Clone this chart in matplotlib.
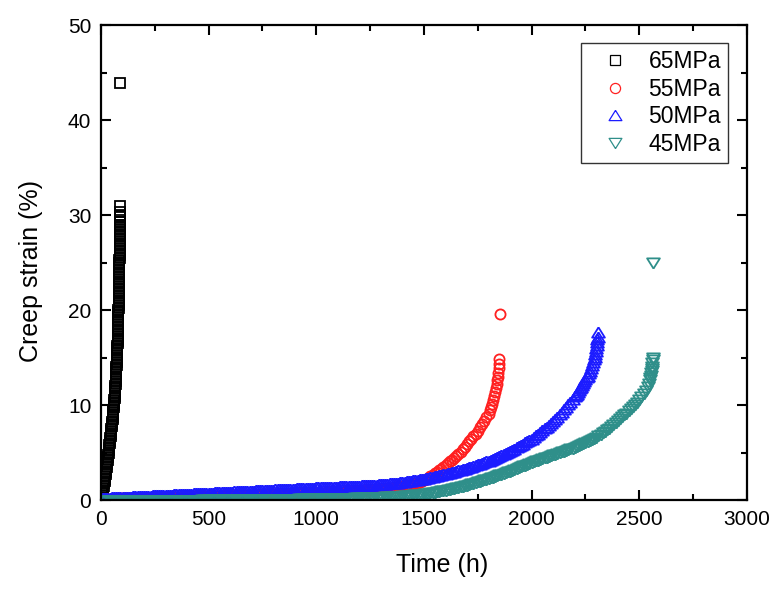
import matplotlib.pyplot as plt
import numpy as np
from matplotlib.ticker import MultipleLocator

plt.rcParams["font.family"] = ["Liberation Sans", "DejaVu Sans"]

# 65 MPa (time in h, creep strain in %)
t_65 = [0, 2.5, 5, 7, 9, 11, 13, 15,
        17, 18.5, 20, 21.5, 23, 24.5, 26, 27.5,
        29, 30.5, 32, 33.5, 35, 36.5, 38, 39.5,
        41, 42.2, 43.5, 44.8, 46, 47.2, 48.5, 49.8,
        51, 52.2, 53.5, 54.8, 56, 57, 58, 59,
        60, 61, 62, 63, 64, 64.8, 65.5, 66.2,
        67, 67.8, 68.5, 69.2, 70, 70.5, 71, 71.5,
        72, 72.5, 73, 73.5, 74, 74.5, 75, 75.5,
        76, 76.4, 76.8, 77.2, 77.5, 77.9, 78.2, 78.5,
        78.8, 79.1, 79.4, 79.7, 80, 80.3, 80.6, 80.9,
        81.2, 81.5, 81.7, 82, 82.2, 82.5, 82.7, 83,
        83.2, 83.4, 83.6, 83.8, 84, 84.2, 84.4, 84.6,
        84.8, 85, 85.2, 85.4, 85.6, 85.8, 86, 86.2,
        86.3, 86.5, 86.6, 86.8, 86.9, 87.1, 87.2, 87.4,
        87.5, 87.7, 87.8, 87.9, 88, 88.1, 88.2, 88.3,
        88.4, 88.4, 88.4, 88.4]
s_65 = [0, 0.25, 0.5, 0.75, 1, 1.25, 1.5, 1.75,
        2, 2.25, 2.5, 2.75, 3, 3.25, 3.5, 3.75,
        4, 4.25, 4.5, 4.75, 5, 5.25, 5.5, 5.75,
        6, 6.25, 6.5, 6.75, 7, 7.25, 7.5, 7.75,
        8, 8.25, 8.5, 8.75, 9, 9.25, 9.5, 9.75,
        10, 10.25, 10.5, 10.75, 11, 11.25, 11.5, 11.75,
        12, 12.25, 12.5, 12.75, 13, 13.25, 13.5, 13.75,
        14, 14.25, 14.5, 14.75, 15, 15.25, 15.5, 15.75,
        16, 16.25, 16.5, 16.75, 17, 17.25, 17.5, 17.75,
        18, 18.25, 18.5, 18.75, 19, 19.25, 19.5, 19.75,
        20, 20.25, 20.5, 20.75, 21, 21.25, 21.5, 21.75,
        22, 22.25, 22.5, 22.75, 23, 23.25, 23.5, 23.75,
        24, 24.25, 24.5, 24.75, 25, 25.25, 25.5, 25.75,
        26, 26.25, 26.5, 26.75, 27, 27.25, 27.5, 27.75,
        28, 28.25, 28.5, 28.75, 29, 29.25, 29.5, 29.75,
        30, 30.3, 30.9, 43.9]

# 55 MPa, logged every 10 h, then the last hours before rupture
t_55 = list(range(0, 1801, 10)) + [1805, 1810, 1815, 1820, 1825, 1830, 1834, 1838,
                                   1841, 1844, 1846, 1848, 1849, 1850, 1851]
s_55 = [0.10, 0.11, 0.11, 0.12, 0.13, 0.13, 0.14, 0.15, 0.16, 0.16,
        0.17, 0.18, 0.18, 0.19, 0.20, 0.20, 0.21, 0.22, 0.23, 0.23,
        0.24, 0.25, 0.25, 0.26, 0.27, 0.27, 0.28, 0.29, 0.30, 0.30,
        0.31, 0.32, 0.32, 0.33, 0.33, 0.34, 0.35, 0.35, 0.36, 0.36,
        0.37, 0.38, 0.38, 0.39, 0.39, 0.40, 0.41, 0.41, 0.42, 0.42,
        0.43, 0.44, 0.44, 0.45, 0.46, 0.46, 0.47, 0.48, 0.48, 0.49,
        0.50, 0.51, 0.51, 0.52, 0.52, 0.53, 0.54, 0.54, 0.55, 0.55,
        0.56, 0.57, 0.57, 0.58, 0.58, 0.59, 0.60, 0.60, 0.61, 0.61,
        0.62, 0.63, 0.63, 0.64, 0.64, 0.65, 0.66, 0.66, 0.67, 0.67,
        0.68, 0.69, 0.69, 0.70, 0.71, 0.71, 0.72, 0.73, 0.73, 0.74,
        0.75, 0.76, 0.77, 0.78, 0.79, 0.80, 0.81, 0.82, 0.83, 0.84,
        0.85, 0.86, 0.87, 0.89, 0.90, 0.91, 0.93, 0.94, 0.95, 0.97,
        0.98, 1.00, 1.01, 1.03, 1.05, 1.06, 1.08, 1.10, 1.11, 1.13,
        1.15, 1.18, 1.20, 1.23, 1.26, 1.29, 1.32, 1.35, 1.38, 1.41,
        1.45, 1.49, 1.54, 1.58, 1.63, 1.70, 1.77, 1.84, 1.92, 2.01,
        2.10, 2.23, 2.36, 2.50, 2.65, 2.80, 2.96, 3.13, 3.31, 3.50,
        3.70, 3.88, 4.06, 4.24, 4.42, 4.60, 4.84, 5.10, 5.36, 5.63,
        5.90, 6.16, 6.42, 6.69, 6.97, 7.30, 7.64, 7.98, 8.33, 8.70,
        9.10,
        9.45, 9.80, 10.15, 10.50, 10.90, 11.40, 11.80, 12.20, 12.60, 13.00,
        13.40, 13.90, 14.30, 14.80, 19.60]

# 50 MPa
t_50 = list(range(0, 2201, 10)) + [2205, 2210, 2215, 2220, 2225, 2230, 2235, 2240,
                                   2245, 2250, 2255, 2260, 2265, 2270, 2275, 2280,
                                   2284, 2288, 2292, 2295, 2298, 2300, 2302, 2304,
                                   2305, 2306, 2308]
s_50 = [0.22, 0.23, 0.24, 0.25, 0.26, 0.28, 0.29, 0.30, 0.31, 0.32,
        0.33, 0.34, 0.35, 0.36, 0.37, 0.39, 0.40, 0.41, 0.42, 0.43,
        0.44, 0.45, 0.46, 0.47, 0.48, 0.50, 0.51, 0.52, 0.53, 0.54,
        0.55, 0.56, 0.57, 0.58, 0.59, 0.61, 0.62, 0.63, 0.64, 0.65,
        0.66, 0.67, 0.68, 0.69, 0.70, 0.72, 0.73, 0.74, 0.75, 0.76,
        0.77, 0.78, 0.79, 0.80, 0.81, 0.83, 0.84, 0.85, 0.86, 0.87,
        0.88, 0.89, 0.90, 0.91, 0.92, 0.94, 0.95, 0.96, 0.97, 0.98,
        0.99, 1.00, 1.01, 1.02, 1.03, 1.05, 1.06, 1.07, 1.08, 1.09,
        1.10, 1.11, 1.12, 1.13, 1.14, 1.16, 1.17, 1.18, 1.19, 1.20,
        1.21, 1.22, 1.23, 1.24, 1.25, 1.27, 1.28, 1.29, 1.30, 1.31,
        1.32, 1.33, 1.34, 1.35, 1.36, 1.37, 1.38, 1.39, 1.40, 1.41,
        1.42, 1.43, 1.44, 1.45, 1.46, 1.47, 1.48, 1.49, 1.50, 1.51,
        1.52, 1.53, 1.55, 1.56, 1.58, 1.59, 1.60, 1.62, 1.63, 1.65,
        1.66, 1.68, 1.70, 1.72, 1.74, 1.77, 1.79, 1.81, 1.83, 1.86,
        1.88, 1.91, 1.95, 1.98, 2.02, 2.06, 2.10, 2.14, 2.18, 2.21,
        2.25, 2.30, 2.35, 2.40, 2.45, 2.50, 2.55, 2.60, 2.65, 2.70,
        2.75, 2.81, 2.87, 2.93, 2.99, 3.05, 3.11, 3.17, 3.23, 3.29,
        3.35, 3.43, 3.51, 3.59, 3.67, 3.75, 3.83, 3.91, 3.99, 4.07,
        4.15, 4.25, 4.35, 4.45, 4.55, 4.65, 4.75, 4.85, 4.95, 5.05,
        5.15, 5.28, 5.41, 5.54, 5.67, 5.80, 5.93, 6.06, 6.19, 6.32,
        6.45, 6.62, 6.80, 6.98, 7.16, 7.34, 7.53, 7.72, 7.91, 8.10,
        8.30, 8.54, 8.78, 9.03, 9.28, 9.54, 9.80, 10.07, 10.34, 10.62,
        10.90,
        11.05, 11.20, 11.40, 11.55, 11.75, 11.90, 12.10, 12.30, 12.50, 12.70,
        12.90, 13.10, 13.35, 13.60, 13.90, 14.20, 14.50, 14.80, 15.10, 15.40,
        15.70, 16.00, 16.30, 16.60, 16.90, 17.20, 17.70]

# 45 MPa
t_45 = list(range(0, 2541, 10)) + [2546, 2549, 2552, 2554, 2556, 2558, 2559, 2560,
                                   2561, 2562, 2563, 2563]
s_45 = [-0.15, -0.15, -0.15, -0.14, -0.14, -0.14, -0.14, -0.13, -0.13, -0.13,
        -0.13, -0.13, -0.13, -0.12, -0.12, -0.12, -0.12, -0.11, -0.11, -0.11,
        -0.11, -0.11, -0.11, -0.10, -0.10, -0.10, -0.10, -0.09, -0.09, -0.09,
        -0.09, -0.09, -0.09, -0.08, -0.08, -0.08, -0.08, -0.07, -0.07, -0.07,
        -0.07, -0.07, -0.07, -0.06, -0.06, -0.06, -0.06, -0.05, -0.05, -0.05,
        -0.05, -0.05, -0.05, -0.04, -0.04, -0.04, -0.04, -0.03, -0.03, -0.03,
        -0.03, -0.03, -0.03, -0.02, -0.02, -0.02, -0.02, -0.01, -0.01, -0.01,
        -0.01, -0.01, 0.00, 0.00, 0.00, 0.00, 0.01, 0.01, 0.01, 0.02,
        0.02, 0.02, 0.03, 0.03, 0.03, 0.03, 0.04, 0.04, 0.04, 0.05,
        0.05, 0.05, 0.06, 0.06, 0.06, 0.06, 0.07, 0.07, 0.07, 0.08,
        0.08, 0.08, 0.09, 0.09, 0.10, 0.10, 0.10, 0.11, 0.11, 0.12,
        0.12, 0.12, 0.13, 0.13, 0.14, 0.14, 0.15, 0.15, 0.16, 0.16,
        0.17, 0.18, 0.18, 0.19, 0.20, 0.21, 0.22, 0.22, 0.23, 0.24,
        0.25, 0.26, 0.28, 0.29, 0.30, 0.32, 0.33, 0.34, 0.36, 0.37,
        0.38, 0.40, 0.42, 0.44, 0.46, 0.48, 0.51, 0.53, 0.55, 0.58,
        0.60, 0.63, 0.67, 0.70, 0.74, 0.78, 0.82, 0.86, 0.90, 0.94,
        0.98, 1.03, 1.08, 1.13, 1.18, 1.23, 1.29, 1.35, 1.41, 1.45,
        1.50, 1.57, 1.64, 1.71, 1.78, 1.85, 1.92, 1.99, 2.06, 2.13,
        2.20, 2.28, 2.36, 2.44, 2.52, 2.60, 2.68, 2.76, 2.84, 2.92,
        3.00, 3.09, 3.18, 3.27, 3.36, 3.45, 3.54, 3.63, 3.72, 3.81,
        3.90, 3.98, 4.06, 4.14, 4.22, 4.30, 4.38, 4.46, 4.54, 4.62,
        4.70, 4.78, 4.86, 4.94, 5.02, 5.10, 5.18, 5.26, 5.34, 5.42,
        5.50, 5.60, 5.70, 5.80, 5.90, 6.00, 6.10, 6.21, 6.32, 6.43,
        6.55, 6.70, 6.85, 7.01, 7.17, 7.34, 7.52, 7.71, 7.90, 8.10,
        8.30, 8.50, 8.70, 8.90, 9.10, 9.32, 9.55, 9.77, 10.00, 10.25,
        10.50, 10.82, 11.15, 11.52, 11.90,
        12.25, 12.60, 12.85, 13.10, 13.35, 13.60, 13.80, 14.00, 14.40, 14.70,
        15.00, 25.00]

tri_up = [(0, 0.8), (-1, -0.8), (1, -0.8), (0, 0.8)]
tri_down = [(0, -0.8), (-1, 0.8), (1, 0.8), (0, -0.8)]

series = [
    (t_65, s_65, "s", "black", 6.8, "65MPa"),
    (t_55, s_55, "o", "#ff2020", 7.3, "55MPa"),
    (t_50, s_50, tri_up, "#1c1cff", 9.2, "50MPa"),
    (t_45, s_45, tri_down, "#2f8f8a", 9.2, "45MPa"),
]

fig = plt.figure(figsize=(7.78, 5.93), dpi=100)
ax = fig.add_axes([0.1298, 0.1568, 0.8303, 0.801])

for t, s, mk, col, ms, lab in series:
    ax.plot(np.array(t), np.array(s), linestyle="none", marker=mk, mfc="none",
            mec=col, ms=ms, mew=1.3, label=lab)

ax.set_xlim(0, 3000)
ax.set_ylim(0, 50)
ax.xaxis.set_major_locator(MultipleLocator(500))
ax.xaxis.set_minor_locator(MultipleLocator(250))
ax.yaxis.set_major_locator(MultipleLocator(10))
ax.yaxis.set_minor_locator(MultipleLocator(5))
ax.tick_params(which="both", direction="in", top=True, right=True, width=1.5,
               labelsize=15)
ax.tick_params(which="major", length=7.5, pad=7)
ax.tick_params(which="minor", length=4)
for sp in ax.spines.values():
    sp.set_linewidth(1.6)

ax.set_xlabel("Time (h)", fontsize=18)
ax.set_ylabel("Creep strain (%)", fontsize=18)
ax.xaxis.set_label_coords(0.528, -0.112)
ax.yaxis.set_label_coords(-0.089, 0.483)

leg = ax.legend(loc="upper right", bbox_to_anchor=(0.9706, 0.962), borderaxespad=0,
                fontsize=16.5, frameon=True, fancybox=False, edgecolor="black",
                labelspacing=0.2, handletextpad=0.3, borderpad=0.3,
                handlelength=2.36)
leg.get_frame().set_linewidth(1.0)
for h in leg.legend_handles:
    h.set_markeredgewidth(0.9)

fig.savefig("out.png", dpi=100)
